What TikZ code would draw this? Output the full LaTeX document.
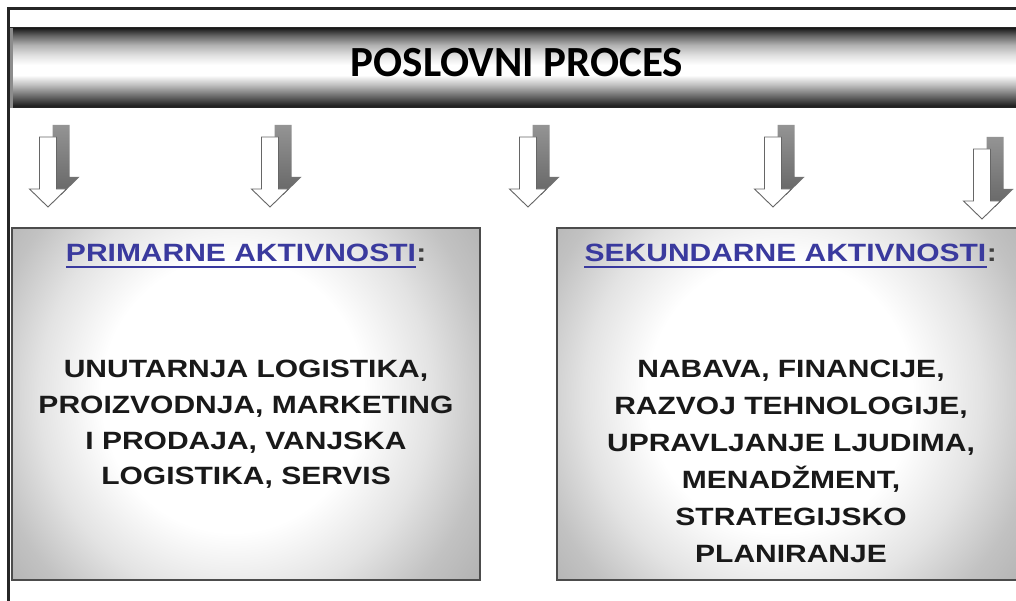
\documentclass[tikz,border=0pt]{standalone}
\usepackage{fontspec}
\setmainfont{Liberation Sans}
\newfontfamily\boxfont[FakeStretch=1.2]{Liberation Sans}
\newfontfamily\titlefont{Carlito}
\usetikzlibrary{calc}
\definecolor{hblue}{HTML}{3A3A9E}
\definecolor{framegray}{HTML}{262626}
\pgfdeclareverticalshading{bannershade}{100bp}{color(0bp)=(black!90); color(25bp)=(black!90); color(26.9bp)=(black!85); color(33bp)=(black!56); color(39.5bp)=(black!25); color(45.5bp)=(white); color(52bp)=(white); color(58bp)=(black!12); color(64.5bp)=(black!31); color(70.5bp)=(black!62); color(75bp)=(black!90); color(100bp)=(black!90)}
\pgfdeclareradialshading{boxshade}{\pgfpoint{-2bp}{0bp}}{color(0bp)=(white); color(14bp)=(white); color(21bp)=(black!11); color(27bp)=(black!24); color(35bp)=(black!34); color(50bp)=(black!38)}
\begin{document}
\begin{tikzpicture}[x=1pt,y=-1pt,
  frameline/.style={draw=framegray, line width=2.2pt},
  banner/.style={shading=bannershade},
  bannerline/.style={draw=black!85, line width=1pt},
  boxshading/.style={shading=boxshade},
  boxborder/.style={draw=black!70, line width=1.3pt},
  titletext/.style={font=\titlefont\bfseries\fontsize{43}{50}\selectfont, inner sep=0pt},
  headtext/.style={font=\boxfont\bfseries\fontsize{25}{30}\selectfont, text=hblue, inner sep=0pt},
  colontext/.style={font=\boxfont\bfseries\fontsize{25}{30}\selectfont, text=black!75, inner sep=0pt},
  bodytext/.style={font=\boxfont\bfseries\fontsize{25}{#1}\selectfont, align=center, inner sep=0pt, text=black!90},
  ul/.style={draw=hblue, line width=2pt},
  arrowbody/.style={fill=white, draw=black!60, line width=0.9pt, line join=miter},
  arrowshadow/.style={top color=black!42, bottom color=black!60},
  blockarr/.pic={
    \path[arrowshadow] (4.5,-12) -- (21.5,-12) -- (21.5,40) -- (31.5,40) -- (13,58) -- (-5.5,40) -- (4.5,40) -- cycle;
    \draw[arrowbody] (-8.5,0) -- (8.5,0) -- (8.5,52) -- (18.5,52) -- (0,70) -- (-18.5,52) -- (-8.5,52) -- cycle;
  }
]
\useasboundingbox (0,0) rectangle (1016,601);
\clip (0,0) rectangle (1016,601);
\fill[white] (0,0) rectangle (1016,601);

% banner
\path[banner] (8.5,28) rectangle (1016,108);
\draw[bannerline] (8.5,28) -- (1016,28);
\draw[bannerline] (8.5,108) -- (1016,108);
\draw[black!45, line width=3pt] (11,28) -- (11,108);
\node[titletext] (title) at (517,63) {POSLOVNI PROCES};

% outer frame
\draw[frameline] (7,8.5) -- (1016,8.5);
\draw[frameline] (8.5,7.5) -- (8.5,601);

% arrows
\pic (arrA) at (48,137) {blockarr};
\pic (arrB) at (270,137) {blockarr};
\pic (arrC) at (528,137) {blockarr};
\pic (arrD) at (773,137) {blockarr};
\pic (arrE) at (982,149) {blockarr};

% boxes
\begin{scope}
  \clip (12,228) rectangle (480,580);
  \path[boxshading] (12,150) rectangle (480,640);
\end{scope}
\draw[boxborder] (12,228) rectangle (480,580);
\begin{scope}
  \clip (557,228) rectangle (1030,580);
  \path[boxshading] (557,150) rectangle (1030,640);
\end{scope}
\draw[boxborder] (557,228) rectangle (1030,580);

% left box texts
\node[headtext, anchor=base] (h1) at (241,261.5) {PRIMARNE AKTIVNOSTI};
\node[colontext, anchor=base west] (c1) at (h1.base east) {:};
\draw[ul] ($(h1.base west)+(0,5.5)$) -- ($(h1.base east)+(0,5.5)$);
\node[bodytext=35.7, anchor=north] (b1) at (246,360) {UNUTARNJA LOGISTIKA,\\PROIZVODNJA, MARKETING\\I PRODAJA, VANJSKA\\LOGISTIKA, SERVIS};

% right box texts
\node[headtext, anchor=base] (h2) at (785.5,261.5) {SEKUNDARNE AKTIVNOSTI};
\node[colontext, anchor=base west] (c2) at (h2.base east) {:};
\draw[ul] ($(h2.base west)+(0,5.5)$) -- ($(h2.base east)+(0,5.5)$);
\node[bodytext=37, anchor=north] (b2) at (791,360) {NABAVA, FINANCIJE,\\RAZVOJ TEHNOLOGIJE,\\UPRAVLJANJE LJUDIMA,\\MENADŽMENT,\\STRATEGIJSKO\\PLANIRANJE};
\end{tikzpicture}
\end{document}
